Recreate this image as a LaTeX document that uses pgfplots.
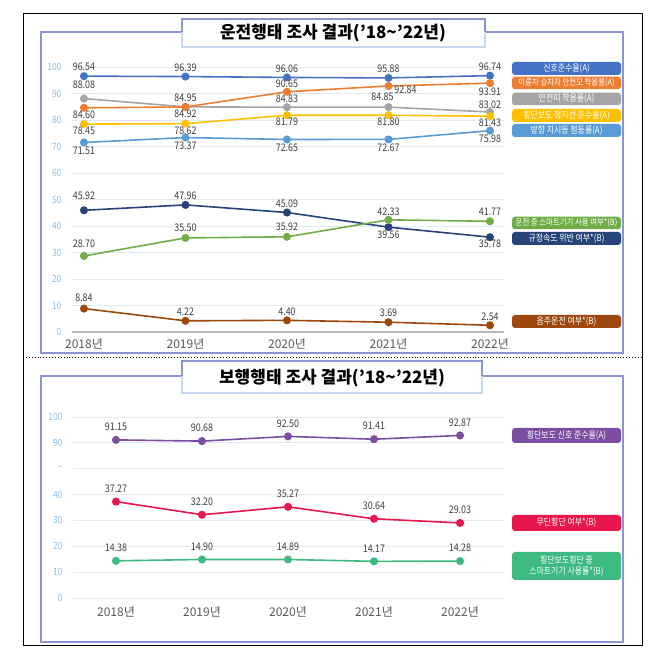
\documentclass[border=0pt]{standalone}
\usepackage{fontspec}
\usepackage{pgfplots}
\pgfplotsset{compat=1.18}
\setmainfont{Noto Sans CJK KR}
\newfontfamily\numfont[FakeStretch=0.85]{Noto Sans CJK KR}
\definecolor{c1}{HTML}{4472C4}
\definecolor{c2}{HTML}{ED7D31}
\definecolor{c3}{HTML}{A5A5A5}
\definecolor{c4}{HTML}{FFC000}
\definecolor{c5}{HTML}{5B9BD5}
\definecolor{c6}{HTML}{70AD47}
\definecolor{c7}{HTML}{264478}
\definecolor{c8}{HTML}{9E480E}
\definecolor{p1}{HTML}{7B4EA3}
\definecolor{p2}{HTML}{E8174B}
\definecolor{p3}{HTML}{3DB982}
\definecolor{labc}{HTML}{3F3F3F}
\definecolor{tickc}{HTML}{8CC0E6}
\definecolor{gridc}{HTML}{DDEBF7}
\definecolor{xlabc}{HTML}{595959}
\definecolor{lav}{HTML}{8C94D1}
\definecolor{lbl}{HTML}{C6D9F0}
\pgfplotsset{
  /pgf/number format/assume math mode=true,
  ser/.style={draw=#1, line width=1.6pt, mark=*, mark size=3.2pt, mark options={fill=#1, draw=#1, solid}},
  lab/.style={point meta=explicit, nodes near coords={\pgfmathprintnumber[fixed,fixed zerofill,precision=2]{\pgfplotspointmeta}},
     visualization depends on={value \thisrow{d}\as\dy},
     every node near coord/.append style={anchor=center, yshift=\dy pt, font=\numfont\fontsize{10.5}{10.5}\selectfont, text=labc, inner sep=0pt}},
  labx/.style={lab, visualization depends on={value \thisrow{e}\as\dx},
     every node near coord/.append style={xshift=\dx pt}},
  panel/.style={scale only axis, clip=false, axis line style={draw=none}, major tick length=0pt,
     ymajorgrids, grid style={color=gridc, line width=0.9pt},
     yticklabel style={font=\numfont\fontsize{10}{10}\selectfont, text=tickc, xshift=-7pt},
     xtick={2018,2019,2020,2021,2022}, xticklabels={2018년,2019년,2020년,2021년,2022년},
     xticklabel style={font=\fontsize{12}{12}\selectfont, text=xlabc}},
}
\tikzset{lbox/.style={rounded corners=3pt, minimum width=109pt, inner sep=0pt, text=white, font=\numfont\fontsize{9.3}{11}\selectfont, align=center},
  lsmall/.style={font=\numfont\fontsize{8.7}{10}\selectfont}}
\begin{document}
\begin{tikzpicture}
\useasboundingbox (0pt,0pt) rectangle (661pt,664pt);
% outer frame and separator
\draw[black, line width=1pt] (23pt,18pt) rectangle (642pt,650pt);
\draw[black, dotted, line width=0.9pt] (23pt,307pt) -- (642pt,307pt);
% top panel frame
\draw[lav, line width=1.8pt] (182pt,632pt) -- (41pt,632pt) -- (41pt,311pt) -- (623pt,311pt) -- (623pt,632pt) -- (485pt,632pt);
\fill[white] (182pt,617pt) rectangle (485pt,645pt);
\draw[lbl, line width=1.5pt] (182pt,632pt) -- (182pt,617pt) -- (485pt,617pt) -- (485pt,632pt);
\draw[lav, line width=1.8pt] (182pt,632pt) -- (182pt,645pt) -- (485pt,645pt) -- (485pt,632pt);
\node[font=\bfseries\fontsize{17}{17}\selectfont] at (333pt,631pt) {운전행태 조사 결과(’18\textasciitilde’22년)};
% bottom panel frame
\draw[lav, line width=1.8pt] (182pt,288pt) -- (41pt,288pt) -- (41pt,22pt) -- (623pt,22pt) -- (623pt,288pt) -- (482pt,288pt);
\fill[white] (182pt,271pt) rectangle (482pt,303pt);
\draw[lbl, line width=1.5pt] (182pt,288pt) -- (182pt,271pt) -- (482pt,271pt) -- (482pt,288pt);
\draw[lav, line width=1.8pt] (182pt,288pt) -- (182pt,303pt) -- (482pt,303pt) -- (482pt,288pt);
\node[font=\bfseries\fontsize{17}{17}\selectfont] at (332pt,286pt) {보행행태 조사 결과(’18\textasciitilde’22년)};

% ---------- top axis ----------
\begin{axis}[panel, at={(72pt,332pt)}, anchor=south west, width=432pt, height=265pt,
  xmin=2017.882, xmax=2022.138, ymin=0, ymax=100,
  ytick={0,10,...,100}, yticklabels={0,10,20,30,40,50,60,70,80,90,100},
  xticklabel style={yshift=-3pt}]
\draw[gray!55, line width=1.5pt] (rel axis cs:0,0) -- (rel axis cs:1,0);
\addplot[ser=c1,lab] table[x=x,y=y,meta=y] {
x y d
2018 96.54 9
2019 96.39 9
2020 96.06 9
2021 95.88 9
2022 96.74 9
};
\addplot[ser=c3,labx] table[x=x,y=y,meta=y] {
x y d e
2018 88.08 14 0
2019 84.95 9 0
2020 84.83 8 0
2021 84.85 10 -6
2022 83.02 7 0
};
\addplot[ser=c2,labx] table[x=x,y=y,meta=y] {
x y d e
2018 84.60 -7 0
2019 84.92 -7 0
2020 90.65 8 0
2021 92.84 -4 17
2022 93.91 -9 0
};
\addplot[ser=c4,lab] table[x=x,y=y,meta=y] {
x y d
2018 78.45 -7
2019 78.62 -7
2020 81.79 -7
2021 81.80 -7
2022 81.43 -7
};
\addplot[ser=c5,lab] table[x=x,y=y,meta=y] {
x y d
2018 71.51 -8
2019 73.37 -8
2020 72.65 -8
2021 72.67 -8
2022 75.98 -8
};
\addplot[ser=c7,lab] table[x=x,y=y,meta=y] {
x y d
2018 45.92 15
2019 47.96 9
2020 45.09 9
2021 39.56 -8
2022 35.78 -7
};
\addplot[ser=c6,lab] table[x=x,y=y,meta=y] {
x y d
2018 28.70 12
2019 35.50 10
2020 35.92 10
2021 42.33 8
2022 41.77 9
};
\addplot[ser=c8,lab] table[x=x,y=y,meta=y] {
x y d
2018 8.84 11
2019 4.22 9
2020 4.40 9
2021 3.69 9
2022 2.54 9
};
\end{axis}

% ---------- bottom axis ----------
\begin{axis}[panel, at={(73pt,66pt)}, anchor=south west, width=431pt, height=181pt,
  xmin=2017.5, xmax=2022.512, ymin=0, ymax=70,
  ytick={0,10,...,70}, yticklabels={0,10,20,30,40,\textasciitilde,90,100},
  xticklabel style={yshift=-5pt}]
\addplot[ser=p1,lab] table[x=x,y=y,meta=v] {
x y v d
2018 61.15 91.15 13
2019 60.68 90.68 13
2020 62.50 92.50 13
2021 61.41 91.41 13
2022 62.87 92.87 13
};
\addplot[ser=p2,lab] table[x=x,y=y,meta=y] {
x y d
2018 37.27 13
2019 32.20 13
2020 35.27 13
2021 30.64 13
2022 29.03 13
};
\addplot[ser=p3,lab] table[x=x,y=y,meta=y] {
x y d
2018 14.38 13
2019 14.90 13
2020 14.89 13
2021 14.17 13
2022 14.28 13
};
\end{axis}

% ---------- legend boxes ----------
\node[lbox, fill=c1, minimum height=13pt] at (566.5pt,595.5pt) {신호준수율(A)};
\node[lbox, lsmall, fill=c2, minimum height=12.5pt] at (566.5pt,581pt) {이륜차 승차자 안전모 착용률(A)};
\node[lbox, fill=c3, minimum height=12.5pt] at (566.5pt,565pt) {안전띠 착용률(A)};
\node[lbox, fill=c4, minimum height=13pt] at (566.5pt,548.5pt) {횡단보도 정지선 준수율(A)};
\node[lbox, fill=c5, minimum height=13pt] at (566.5pt,533.5pt) {방향 지시등 점등률(A)};
\node[lbox, lsmall, fill=c6, minimum height=12.5pt] at (566.5pt,441pt) {운전 중 스마트기기 사용 여부*(B)};
\node[lbox, fill=c7, minimum height=13pt] at (566.5pt,425.5pt) {규정속도 위반 여부*(B)};
\node[lbox, fill=c8, minimum height=13pt] at (566.5pt,342.5pt) {음주운전 여부*(B)};
\node[lbox, fill=p1, minimum height=15pt] at (566.5pt,228.5pt) {횡단보도 신호 준수율(A)};
\node[lbox, fill=p2, minimum height=16pt] at (566.5pt,141pt) {무단횡단 여부*(B)};
\node[lbox, fill=p3, minimum height=28pt] at (566.5pt,98pt) {횡단보도횡단 중\\스마트기기 사용률*(B)};
\end{tikzpicture}
\end{document}
